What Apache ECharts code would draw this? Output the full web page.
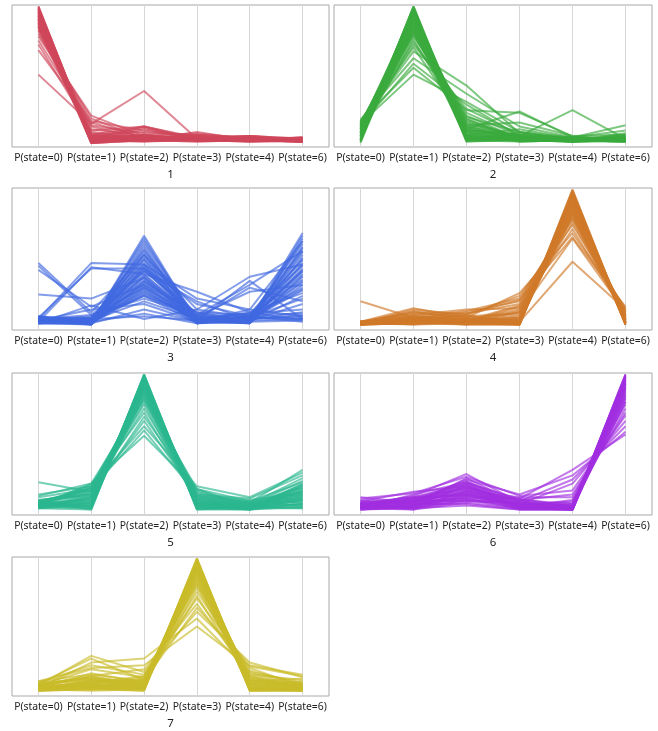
<!DOCTYPE html>
<html>
<head>
<meta charset="utf-8">
<script src="https://cdn.jsdelivr.net/npm/echarts@6/dist/echarts.min.js"></script>
<style>
html, body { margin: 0; padding: 0; background: #fff; }
#chart { width: 658px; height: 731px; }
</style>
</head>
<body>
<div id="chart"></div>
<script>
var categories = ['P(state=0)', 'P(state=1)', 'P(state=2)', 'P(state=3)', 'P(state=4)', 'P(state=6)'];
var panelNames = ['1', '2', '3', '4', '5', '6', '7'];
var panelColors = ['#d0475a', '#3aab3e', '#4169e1', '#d07a2a', '#2bb78f', '#a22ee0', '#c9bb2a'];

// one row per profile: P0, P1, P2, P3, P4, P6
var cluster1 = [
  [1.00,0.02,0.03,0.02,0.02,0.01],[0.99,0.01,0.02,0.03,0.03,0.02],[0.98,0.03,0.04,0.02,0.01,0.02],
  [0.97,0.00,0.02,0.01,0.02,0.01],[0.97,0.02,0.01,0.02,0.03,0.03],[0.96,0.04,0.03,0.04,0.02,0.02],
  [0.95,0.01,0.05,0.03,0.02,0.01],[0.95,0.03,0.02,0.05,0.04,0.02],[0.94,0.02,0.04,0.02,0.01,0.03],
  [0.93,0.05,0.03,0.03,0.02,0.02],[0.93,0.00,0.06,0.02,0.03,0.01],[0.92,0.03,0.02,0.06,0.02,0.04],
  [0.91,0.06,0.12,0.03,0.02,0.01],[0.91,0.02,0.03,0.04,0.05,0.02],[0.90,0.04,0.11,0.02,0.02,0.03],
  [0.89,0.01,0.05,0.07,0.03,0.02],[0.89,0.07,0.03,0.03,0.04,0.01],[0.88,0.03,0.12,0.02,0.02,0.02],
  [0.87,0.08,0.04,0.02,0.03,0.03],[0.86,0.05,0.02,0.08,0.02,0.02],[0.86,0.10,0.05,0.03,0.04,0.02],
  [0.85,0.02,0.10,0.04,0.03,0.04],[0.84,0.12,0.03,0.02,0.02,0.01],[0.83,0.15,0.04,0.03,0.05,0.02],
  [0.82,0.06,0.08,0.05,0.02,0.03],[0.80,0.18,0.03,0.02,0.02,0.02],[0.78,0.20,0.05,0.02,0.03,0.02],
  [0.75,0.13,0.07,0.06,0.03,0.02],[0.72,0.09,0.12,0.04,0.05,0.03],[0.68,0.16,0.09,0.04,0.02,0.04],
  [0.50,0.14,0.38,0.03,0.02,0.02],
  [1.00,0.01,0.02,0.01,0.02,0.02],[0.99,0.03,0.03,0.02,0.01,0.01],[0.98,0.02,0.01,0.03,0.02,0.03],
  [0.98,0.00,0.04,0.02,0.03,0.02],[0.97,0.04,0.02,0.04,0.02,0.01],[0.96,0.01,0.03,0.02,0.04,0.02],
  [0.95,0.05,0.05,0.02,0.02,0.03],[0.94,0.00,0.02,0.03,0.03,0.02],[0.93,0.03,0.04,0.05,0.02,0.01],
  [0.92,0.01,0.06,0.03,0.01,0.02],[0.91,0.04,0.02,0.02,0.03,0.03],[0.90,0.02,0.03,0.06,0.04,0.02],
  [0.89,0.05,0.05,0.03,0.02,0.04],[0.88,0.00,0.02,0.04,0.03,0.02],[0.87,0.03,0.06,0.02,0.05,0.03],
  [0.85,0.06,0.03,0.05,0.02,0.02]
];
var cluster2 = [
  [0.02,1.00,0.05,0.02,0.01,0.02],[0.05,0.99,0.02,0.03,0.02,0.01],[0.01,0.98,0.08,0.01,0.02,0.03],
  [0.08,0.97,0.03,0.02,0.01,0.02],[0.03,0.96,0.10,0.04,0.02,0.02],[0.10,0.95,0.01,0.02,0.03,0.04],
  [0.00,0.94,0.06,0.03,0.01,0.01],[0.06,0.93,0.12,0.02,0.02,0.03],[0.12,0.92,0.04,0.05,0.02,0.02],
  [0.04,0.91,0.15,0.03,0.01,0.05],[0.09,0.90,0.07,0.02,0.03,0.02],[0.02,0.89,0.02,0.08,0.02,0.01],
  [0.14,0.88,0.11,0.03,0.02,0.04],[0.07,0.87,0.05,0.04,0.04,0.02],[0.11,0.86,0.18,0.02,0.02,0.03],
  [0.03,0.85,0.09,0.06,0.01,0.06],[0.13,0.84,0.03,0.03,0.03,0.02],[0.05,0.83,0.14,0.05,0.02,0.01],
  [0.10,0.82,0.20,0.03,0.02,0.04],[0.15,0.81,0.06,0.10,0.03,0.02],[0.08,0.80,0.16,0.04,0.02,0.05],
  [0.12,0.78,0.22,0.05,0.03,0.03],[0.06,0.76,0.10,0.23,0.04,0.02],[0.14,0.74,0.19,0.08,0.02,0.07],
  [0.11,0.72,0.25,0.06,0.04,0.03],[0.16,0.70,0.13,0.15,0.05,0.02],[0.15,0.67,0.42,0.07,0.03,0.04],
  [0.17,0.62,0.36,0.12,0.04,0.13],[0.13,0.58,0.28,0.05,0.24,0.03],[0.16,0.55,0.24,0.22,0.05,0.06],
  [0.14,0.50,0.30,0.08,0.04,0.09],
  [0.01,1.00,0.02,0.01,0.02,0.01],[0.04,0.99,0.04,0.02,0.01,0.02],[0.07,0.98,0.01,0.03,0.02,0.03],
  [0.02,0.97,0.06,0.01,0.02,0.02],[0.11,0.96,0.03,0.02,0.01,0.04],[0.05,0.95,0.08,0.04,0.03,0.02],
  [0.09,0.94,0.02,0.02,0.02,0.01],[0.13,0.93,0.05,0.03,0.01,0.03],[0.03,0.92,0.10,0.02,0.02,0.05],
  [0.08,0.91,0.03,0.05,0.03,0.02],[0.12,0.90,0.08,0.03,0.02,0.03],[0.06,0.88,0.12,0.04,0.01,0.02],
  [0.10,0.86,0.04,0.02,0.02,0.04],[0.14,0.84,0.09,0.06,0.03,0.03],[0.07,0.82,0.13,0.03,0.02,0.06],
  [0.15,0.79,0.17,0.04,0.03,0.02]
];
var cluster3 = [
  [0.03,0.02,0.66,0.03,0.04,0.68],[0.05,0.03,0.62,0.05,0.02,0.64],[0.02,0.01,0.58,0.02,0.06,0.60],
  [0.04,0.04,0.55,0.06,0.03,0.57],[0.06,0.02,0.52,0.03,0.08,0.55],[0.03,0.05,0.50,0.08,0.05,0.52],
  [0.07,0.01,0.48,0.04,0.02,0.50],[0.02,0.03,0.46,0.02,0.07,0.48],[0.05,0.06,0.45,0.07,0.04,0.46],
  [0.04,0.02,0.43,0.05,0.09,0.44],[0.03,0.04,0.42,0.03,0.03,0.42],[0.06,0.03,0.40,0.09,0.06,0.40],
  [0.02,0.05,0.38,0.04,0.05,0.38],[0.05,0.02,0.37,0.06,0.02,0.36],[0.04,0.07,0.35,0.02,0.08,0.34],
  [0.07,0.03,0.33,0.05,0.04,0.32],[0.03,0.01,0.32,0.10,0.03,0.30],[0.05,0.04,0.30,0.03,0.07,0.28],
  [0.02,0.06,0.28,0.07,0.05,0.26],[0.06,0.02,0.26,0.04,0.10,0.24],[0.04,0.03,0.24,0.06,0.03,0.22],
  [0.03,0.05,0.22,0.02,0.06,0.20],[0.05,0.08,0.20,0.08,0.04,0.16],[0.07,0.04,0.18,0.05,0.09,0.12],
  [0.04,0.12,0.16,0.03,0.05,0.08],[0.46,0.10,0.52,0.12,0.06,0.06],[0.44,0.08,0.40,0.18,0.04,0.05],
  [0.41,0.14,0.30,0.10,0.08,0.09],[0.23,0.20,0.35,0.06,0.05,0.10],[0.05,0.46,0.45,0.20,0.12,0.07],
  [0.03,0.43,0.38,0.25,0.10,0.04],[0.06,0.42,0.42,0.16,0.07,0.03],[0.02,0.15,0.05,0.12,0.36,0.45],
  [0.04,0.05,0.22,0.08,0.30,0.55],[0.05,0.03,0.28,0.05,0.28,0.18],[0.03,0.04,0.25,0.04,0.33,0.05],
  [0.06,0.06,0.33,0.07,0.25,0.30],[0.02,0.02,0.12,0.03,0.12,0.62],[0.04,0.03,0.09,0.02,0.04,0.40],
  [0.03,0.05,0.07,0.04,0.06,0.05],
  [0.02,0.02,0.64,0.02,0.03,0.66],[0.04,0.01,0.60,0.04,0.05,0.62],[0.03,0.03,0.56,0.03,0.02,0.58],
  [0.05,0.02,0.53,0.05,0.04,0.54],[0.02,0.04,0.49,0.02,0.06,0.49],[0.06,0.01,0.44,0.04,0.03,0.45],
  [0.03,0.03,0.41,0.06,0.05,0.41],[0.04,0.02,0.36,0.03,0.02,0.37],[0.05,0.04,0.31,0.05,0.04,0.33],
  [0.02,0.03,0.27,0.02,0.06,0.27],[0.03,0.02,0.23,0.04,0.03,0.04],[0.06,0.05,0.29,0.03,0.05,0.07]
];
var cluster4 = [
  [0.02,0.03,0.02,0.01,1.00,0.02],[0.01,0.02,0.03,0.02,0.99,0.01],[0.03,0.04,0.02,0.01,0.98,0.03],
  [0.02,0.02,0.05,0.01,0.97,0.02],[0.01,0.05,0.03,0.02,0.96,0.04],[0.03,0.03,0.02,0.02,0.95,0.01],
  [0.02,0.06,0.04,0.06,0.94,0.05],[0.01,0.02,0.06,0.01,0.93,0.02],[0.03,0.04,0.03,0.08,0.92,0.03],
  [0.02,0.07,0.05,0.02,0.91,0.06],[0.01,0.03,0.02,0.10,0.90,0.02],[0.02,0.05,0.07,0.03,0.89,0.04],
  [0.03,0.08,0.04,0.12,0.88,0.07],[0.01,0.04,0.08,0.02,0.87,0.03],[0.02,0.06,0.03,0.14,0.86,0.08],
  [0.03,0.10,0.06,0.04,0.85,0.05],[0.02,0.03,0.09,0.16,0.84,0.09],[0.01,0.07,0.05,0.03,0.83,0.04],
  [0.03,0.05,0.10,0.18,0.82,0.10],[0.02,0.11,0.04,0.06,0.80,0.06],[0.01,0.06,0.11,0.20,0.78,0.11],
  [0.03,0.09,0.07,0.09,0.76,0.07],[0.02,0.12,0.08,0.22,0.74,0.12],[0.02,0.08,0.12,0.13,0.71,0.08],
  [0.03,0.13,0.06,0.24,0.68,0.13],[0.01,0.10,0.09,0.19,0.65,0.14],[0.18,0.06,0.04,0.10,0.64,0.10],
  [0.02,0.05,0.03,0.03,0.47,0.12],
  [0.01,0.02,0.01,0.01,0.99,0.01],[0.02,0.01,0.02,0.02,0.98,0.02],[0.03,0.03,0.01,0.01,0.97,0.03],
  [0.01,0.02,0.03,0.02,0.96,0.01],[0.02,0.04,0.02,0.03,0.95,0.02],[0.03,0.01,0.04,0.01,0.94,0.04],
  [0.01,0.03,0.02,0.04,0.93,0.03],[0.02,0.02,0.03,0.02,0.92,0.02],[0.03,0.05,0.02,0.05,0.90,0.05],
  [0.01,0.03,0.04,0.03,0.89,0.03],[0.02,0.04,0.01,0.07,0.87,0.06],[0.03,0.02,0.05,0.04,0.85,0.04],
  [0.01,0.06,0.03,0.11,0.83,0.07],[0.02,0.03,0.02,0.05,0.81,0.05],[0.03,0.05,0.04,0.15,0.79,0.09]
];
var cluster5 = [
  [0.03,0.02,1.00,0.02,0.02,0.05],[0.05,0.04,0.99,0.04,0.01,0.10],[0.02,0.06,0.98,0.01,0.03,0.03],
  [0.06,0.01,0.97,0.06,0.02,0.14],[0.04,0.08,0.96,0.03,0.04,0.07],[0.07,0.03,0.95,0.08,0.01,0.18],
  [0.03,0.10,0.94,0.02,0.03,0.02],[0.05,0.05,0.93,0.05,0.05,0.12],[0.08,0.12,0.92,0.10,0.02,0.08],
  [0.02,0.07,0.91,0.03,0.03,0.16],[0.06,0.14,0.90,0.07,0.06,0.04],[0.04,0.09,0.89,0.12,0.02,0.20],
  [0.07,0.16,0.88,0.04,0.04,0.11],[0.03,0.04,0.87,0.09,0.07,0.06],[0.05,0.18,0.86,0.14,0.03,0.15],
  [0.08,0.11,0.84,0.06,0.05,0.09],[0.04,0.20,0.82,0.16,0.02,0.19],[0.06,0.13,0.80,0.11,0.08,0.13],
  [0.03,0.17,0.78,0.05,0.04,0.22],[0.07,0.15,0.75,0.13,0.06,0.17],[0.05,0.19,0.72,0.08,0.03,0.10],
  [0.04,0.12,0.69,0.15,0.05,0.24],[0.21,0.14,0.66,0.10,0.06,0.30],[0.12,0.18,0.62,0.18,0.10,0.28],
  [0.10,0.16,0.59,0.12,0.09,0.26],[0.11,0.20,0.55,0.16,0.07,0.21],
  [0.02,0.01,1.00,0.01,0.01,0.03],[0.04,0.03,0.99,0.03,0.02,0.08],[0.03,0.05,0.98,0.02,0.01,0.05],
  [0.05,0.02,0.97,0.04,0.03,0.11],[0.06,0.07,0.96,0.02,0.02,0.02],[0.02,0.04,0.95,0.05,0.04,0.13],
  [0.04,0.09,0.94,0.03,0.01,0.06],[0.07,0.03,0.93,0.06,0.03,0.09],[0.03,0.11,0.92,0.04,0.02,0.15],
  [0.05,0.06,0.91,0.08,0.05,0.04],[0.06,0.13,0.90,0.05,0.03,0.12],[0.04,0.08,0.88,0.09,0.04,0.17],
  [0.07,0.15,0.86,0.07,0.02,0.08],[0.03,0.10,0.84,0.11,0.06,0.14],[0.05,0.17,0.82,0.06,0.03,0.19]
];
var cluster6 = [
  [0.02,0.03,0.08,0.02,0.01,1.00],[0.04,0.01,0.12,0.04,0.02,0.99],[0.01,0.05,0.05,0.01,0.01,0.98],
  [0.03,0.02,0.15,0.03,0.03,0.97],[0.05,0.06,0.10,0.05,0.01,0.96],[0.02,0.04,0.18,0.02,0.02,0.95],
  [0.06,0.02,0.07,0.06,0.04,0.94],[0.03,0.07,0.20,0.03,0.01,0.93],[0.01,0.03,0.13,0.08,0.03,0.92],
  [0.04,0.08,0.22,0.04,0.02,0.91],[0.07,0.05,0.09,0.02,0.05,0.90],[0.02,0.09,0.17,0.07,0.01,0.88],
  [0.05,0.04,0.24,0.05,0.06,0.86],[0.03,0.10,0.11,0.09,0.03,0.84],[0.08,0.06,0.19,0.03,0.08,0.82],
  [0.04,0.11,0.27,0.06,0.04,0.80],[0.06,0.07,0.14,0.10,0.10,0.78],[0.02,0.12,0.21,0.04,0.07,0.75],
  [0.05,0.08,0.16,0.08,0.12,0.72],[0.09,0.13,0.25,0.11,0.15,0.70],[0.03,0.09,0.12,0.05,0.20,0.66],
  [0.07,0.14,0.18,0.07,0.23,0.62],[0.10,0.06,0.23,0.12,0.26,0.58],[0.05,0.10,0.20,0.09,0.30,0.56],
  [0.01,0.02,0.04,0.01,0.01,1.00],[0.03,0.04,0.09,0.03,0.02,0.99],[0.02,0.01,0.06,0.02,0.01,0.98],
  [0.04,0.05,0.11,0.04,0.02,0.97],[0.01,0.03,0.14,0.01,0.01,0.96],[0.05,0.02,0.08,0.05,0.03,0.95],
  [0.03,0.06,0.16,0.03,0.01,0.94],[0.02,0.04,0.10,0.06,0.02,0.93],[0.06,0.07,0.13,0.02,0.01,0.92],
  [0.03,0.03,0.19,0.04,0.03,0.90],[0.04,0.08,0.07,0.07,0.02,0.89],[0.02,0.05,0.15,0.03,0.04,0.87],
  [0.05,0.09,0.12,0.05,0.02,0.85],[0.03,0.06,0.21,0.08,0.05,0.83],[0.06,0.10,0.17,0.04,0.03,0.80]
];
var cluster7 = [
  [0.02,0.03,0.02,1.00,0.02,0.02],[0.04,0.05,0.04,0.99,0.04,0.03],[0.01,0.02,0.03,0.98,0.01,0.01],
  [0.03,0.07,0.05,0.97,0.06,0.04],[0.05,0.04,0.02,0.96,0.03,0.02],[0.02,0.09,0.06,0.95,0.08,0.05],
  [0.06,0.03,0.08,0.94,0.02,0.03],[0.03,0.06,0.03,0.93,0.05,0.01],[0.07,0.10,0.07,0.92,0.10,0.06],
  [0.04,0.05,0.04,0.91,0.03,0.02],[0.02,0.08,0.09,0.90,0.07,0.04],[0.05,0.12,0.05,0.88,0.12,0.03],
  [0.03,0.04,0.10,0.86,0.04,0.07],[0.06,0.11,0.06,0.84,0.09,0.02],[0.04,0.07,0.12,0.82,0.14,0.05],
  [0.08,0.13,0.08,0.80,0.06,0.08],[0.02,0.09,0.04,0.78,0.11,0.03],[0.05,0.17,0.11,0.75,0.16,0.06],
  [0.03,0.14,0.07,0.72,0.08,0.10],[0.07,0.20,0.13,0.70,0.18,0.04],[0.04,0.12,0.17,0.66,0.13,0.09],
  [0.06,0.25,0.09,0.63,0.20,0.13],[0.05,0.27,0.15,0.60,0.22,0.11],[0.03,0.22,0.25,0.55,0.15,0.07],
  [0.08,0.18,0.20,0.49,0.19,0.12],
  [0.01,0.02,0.01,1.00,0.01,0.01],[0.03,0.04,0.03,0.99,0.03,0.02],[0.02,0.01,0.02,0.98,0.02,0.01],
  [0.04,0.06,0.04,0.97,0.05,0.03],[0.01,0.03,0.01,0.96,0.02,0.02],[0.03,0.08,0.05,0.95,0.07,0.04],
  [0.05,0.02,0.06,0.94,0.01,0.02],[0.02,0.05,0.02,0.93,0.04,0.01],[0.06,0.09,0.06,0.92,0.09,0.05],
  [0.03,0.04,0.03,0.91,0.02,0.03],[0.01,0.07,0.08,0.90,0.06,0.02],[0.04,0.11,0.04,0.88,0.10,0.04],
  [0.02,0.03,0.09,0.86,0.03,0.06],[0.05,0.10,0.05,0.84,0.08,0.03],[0.03,0.06,0.11,0.81,0.12,0.05]
];

var clusters = [cluster1, cluster2, cluster3, cluster4, cluster5, cluster6, cluster7];

var chart = echarts.init(document.getElementById('chart'));

var colLeft = [12, 334], colWidth = [317, 318];
var rowTop = [5, 188, 373, 557];
var grids = [], xAxes = [], yAxes = [], series = [];

clusters.forEach(function (rows, i) {
    var col = i % 2, row = Math.floor(i / 2);
    grids.push({
        left: colLeft[col], top: rowTop[row], width: colWidth[col], height: 142,
        show: true, borderColor: '#a9a9a9', borderWidth: 1
    });
    xAxes.push({
        gridIndex: i, type: 'category', data: categories, boundaryGap: true,
        axisLine: { show: false }, axisTick: { show: false },
        splitLine: { show: true, alignWithLabel: true, lineStyle: { color: '#d6d6d6', width: 1 } },
        axisLabel: { interval: 0, margin: 6, fontSize: 10.4, color: '#222', fontFamily: 'Noto Sans' },
        name: panelNames[i], nameLocation: 'middle', nameGap: 22,
        nameTextStyle: { fontSize: 11.5, color: '#222', fontFamily: 'Noto Sans' }
    });
    yAxes.push({ gridIndex: i, type: 'value', min: -0.03, max: 1.01, show: false });
    rows.forEach(function (r) {
        series.push({
            type: 'line', xAxisIndex: i, yAxisIndex: i, data: r,
            symbol: 'none', silent: true,
            lineStyle: { color: panelColors[i], width: 2, opacity: 0.65 }
        });
    });
});

chart.setOption({
    animation: false,
    grid: grids,
    xAxis: xAxes,
    yAxis: yAxes,
    series: series
});
</script>
</body>
</html>
